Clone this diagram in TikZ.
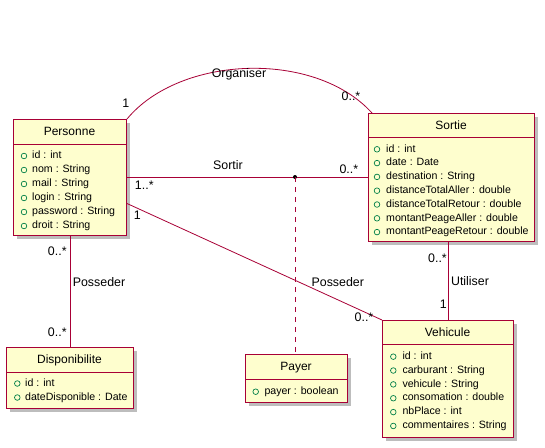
\documentclass[tikz,border=0pt]{standalone}
\usepackage{fontspec}
\setmainfont{Liberation Sans}
\usetikzlibrary{calc}
\definecolor{umlborder}{HTML}{A80036}
\definecolor{umlfill}{HTML}{FEFECE}
\definecolor{umlgreen}{HTML}{038048}
\definecolor{umlshadow}{HTML}{BDBDBD}
\tikzset{
  classbox/.style={draw=umlborder, fill=umlfill, line width=1pt, inner sep=0pt, anchor=north west},
  shadowbox/.style={fill=umlshadow, draw=none},
  classtitle/.style={font=\fontsize{12}{14}\selectfont, inner sep=0pt},
  attrtext/.style={font=\fontsize{10.6}{13}\selectfont, inner sep=0pt, anchor=west, text height=7.6pt, text depth=2.2pt},
  attrcircle/.style={draw=umlgreen, line width=0.7pt},
  assoc/.style={draw=umlborder, line width=0.8pt},
  lbl/.style={font=\fontsize{12.4}{14}\selectfont, inner sep=0pt}
}
\begin{document}
\begin{tikzpicture}[x=1pt, y=-1pt]
\useasboundingbox[fill=white] (0,0) rectangle (545,447);

% ---------- Personne ----------
\fill[shadowbox] (17,123) rectangle (130,239);
\node[classbox, minimum width=113pt, minimum height=116pt] (personne) at (13,119) {};
\draw[umlborder, line width=1pt] (13,144) -- (126,144);
\node[classtitle] (personneT) at (69.5,131.5) {Personne};
\foreach \t [count=\i] in {id : int, nom : String, mail : String, login : String, password : String, droit : String}{
  \draw[attrcircle] (24,{142+14*\i}) circle (2.8);
  \node[attrtext] (pa\i) at (32,{142+14*\i}) {\t};
}

% ---------- Sortie ----------
\fill[shadowbox] (372,117) rectangle (538,245);
\node[classbox, minimum width=166pt, minimum height=128pt] (sortie) at (368,113) {};
\draw[umlborder, line width=1pt] (368,137) -- (534,137);
\node[classtitle] (sortieT) at (451,125) {Sortie};
\foreach \t [count=\i] in {id : int, date : Date, destination : String, distanceTotalAller : double, distanceTotalRetour : double, montantPeageAller : double, montantPeageRetour : double}{
  \draw[attrcircle] (377,{135.5+13.8*\i}) circle (2.8);
  \node[attrtext] (sa\i) at (386,{135.5+13.8*\i}) {\t};
}

% ---------- Disponibilite ----------
\fill[shadowbox] (10,351) rectangle (137,412);
\node[classbox, minimum width=127pt, minimum height=61pt] (dispo) at (6,347) {};
\draw[umlborder, line width=1pt] (6,372) -- (133,372);
\node[classtitle] (dispoT) at (69.5,360.5) {Disponibilite};
\foreach \t [count=\i] in {id : int, dateDisponible : Date}{
  \draw[attrcircle] (17.3,{369.5+14*\i}) circle (2.8);
  \node[attrtext] (da\i) at (25,{369.5+14*\i}) {\t};
}

% ---------- Payer ----------
\fill[shadowbox] (249,358) rectangle (351,406);
\node[classbox, minimum width=102pt, minimum height=48pt] (payer) at (245,354) {};
\draw[umlborder, line width=1pt] (245,379) -- (347,379);
\node[classtitle] (payerT) at (296,367.3) {Payer};
\draw[attrcircle] (255.7,391.7) circle (2.8);
\node[attrtext] (pya1) at (264.3,391.7) {payer : boolean};

% ---------- Vehicule ----------
\fill[shadowbox] (386,324) rectangle (517,441);
\node[classbox, minimum width=131pt, minimum height=117pt] (vehicule) at (382,320) {};
\draw[umlborder, line width=1pt] (382,344) -- (513,344);
\node[classtitle] (vehiculeT) at (447.5,332.7) {Vehicule};
\foreach \t [count=\i] in {id : int, carburant : String, vehicule : String, consomation : double, nbPlace : int, commentaires : String}{
  \draw[attrcircle] (393.3,{342.8+13.86*\i}) circle (2.8);
  \node[attrtext] (va\i) at (402.3,{342.8+13.86*\i}) {\t};
}

% ---------- Associations ----------
% Organiser
\coordinate (orgEnd) at ($(sortie.north west)+(4,0)$);
\draw[assoc] (personne.north east) .. controls (180,55) and (315,50) .. (orgEnd);
\node[lbl] (orgL) at (239,74) {Organiser};
\node[lbl] (orgM1) at (125.7,103.3) {1};
\node[lbl] (orgM2) at (351,96) {0..*};

% Sortir
\draw[assoc] (personne.east) -- (sortie.west);
\coordinate (sdot) at (295,177);
\fill[black] (sdot) circle (2);
\draw[assoc, dash pattern=on 5pt off 5pt] (sdot) -- (sdot |- payer.north);
\node[lbl] (sortirL) at (228,165) {Sortir};
\node[lbl] (sortirM1) at (144.3,185) {1..*};
\node[lbl] (sortirM2) at (348.8,169.3) {0..*};

% Posseder (Personne - Vehicule)
\coordinate (possStart) at ($(personne.east)+(0,26)$);
\draw[assoc] (possStart) -- (vehicule.north west);
\node[lbl] (poss2L) at (337.8,281.7) {Posseder};
\node[lbl] (poss2M1) at (137.3,215) {1};
\node[lbl] (poss2M2) at (364,317.7) {0..*};

% Posseder (Personne - Disponibilite)
\draw[assoc] (personne.south) -- (dispo.north);
\node[lbl] (poss1L) at (99,281.7) {Posseder};
\node[lbl] (poss1M1) at (57.3,251.7) {0..*};
\node[lbl] (poss1M2) at (57.3,332.7) {0..*};

% Utiliser
\coordinate (utilTop) at (448.5,241);
\draw[assoc] (utilTop) -- (utilTop |- vehicule.north);
\node[lbl] (utilL) at (470,281) {Utiliser};
\node[lbl] (utilM1) at (437.5,258.3) {0..*};
\node[lbl] (utilM2) at (443.3,304.3) {1};
\end{tikzpicture}
\end{document}
